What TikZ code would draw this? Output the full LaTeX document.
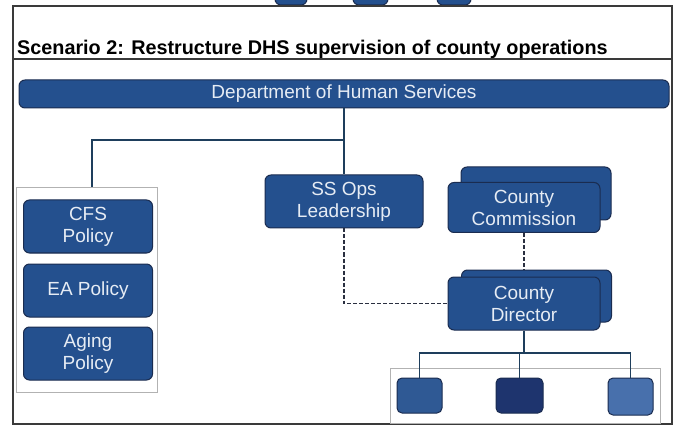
\documentclass[tikz,border=0pt]{standalone}
\usepackage{fontspec}
\setmainfont{Liberation Sans}
\begin{document}
\begin{tikzpicture}[x=1pt,y=-1pt,
  box/.style={draw=boxedge,fill=boxfill,line width=1pt,rounded corners=6pt,
    text=boxtext,font=\fontsize{19}{22}\selectfont,align=center,inner sep=0pt},
  conn/.style={draw=linecol,line width=1.4pt},
  dashline/.style={draw=dashcol,line width=1.3pt,dash pattern=on 4pt off 2pt},
  holder/.style={draw=gray!60,line width=0.6pt,fill=white}]
\definecolor{boxfill}{HTML}{24508E}
\definecolor{boxedge}{HTML}{1A2C50}
\definecolor{boxtext}{HTML}{E6ECF4}
\definecolor{linecol}{HTML}{1E3E5C}
\definecolor{dashcol}{HTML}{2A2F40}
\definecolor{frame}{HTML}{3A3A3A}
\useasboundingbox (0,0) rectangle (682,430);
\fill[white] (0,0) rectangle (682,430);
% cut-off boxes of the previous row
\begin{scope}
\clip (0,0) rectangle (682,8);
\node[box,minimum width=32pt,minimum height=30pt] (top1) at (291,-10) {};
\node[box,minimum width=35pt,minimum height=30pt] (top2) at (370.5,-10) {};
\node[box,minimum width=34pt,minimum height=30pt] (top3) at (454,-10) {};
\end{scope}
% frame and title
\draw[frame,line width=1.3pt] (13,6) rectangle (672,424);
\node[anchor=base west,font=\fontsize{19.8}{22}\selectfont\bfseries,text=black,inner sep=0pt] (title) at (17,55) {Scenario 2: Restructure DHS supervision of county operations};
\draw[frame,line width=1.5pt] (13,59) -- (671,59);
% department bar
\node[box,minimum width=650pt,minimum height=28pt] (dhs) at (344,94) {Department of Human Services};
% left holder
\node[holder,minimum width=141pt,minimum height=205pt] (lc) at (86.5,290) {};
\node[box,minimum width=129pt,minimum height=53pt] (cfs) at (88,226.5) {CFS\\Policy};
\node[box,minimum width=129pt,minimum height=53pt] (ea) at (88,290.5) {EA Policy};
\node[box,minimum width=129pt,minimum height=53pt] (aging) at (88,353.5) {Aging\\Policy};
% SS Ops
\node[box,minimum width=158pt,minimum height=53pt] (ss) at (344,201.5) {SS Ops\\Leadership};
% County Commission (stacked)
\node[box,minimum width=150pt,minimum height=53pt] (ccback) at (536,193.5) {};
\node[box,minimum width=152pt,minimum height=50pt] (cc) at (524,207.5) {County\\Commission};
% County Director (stacked)
\node[box,minimum width=150pt,minimum height=52pt] (cdback) at (536.5,296) {};
\node[box,minimum width=152pt,minimum height=53pt] (cd) at (524,303.5) {County\\Director};
% bottom holder
\node[holder,minimum width=270pt,minimum height=55pt] (bc) at (525,396) {};
\node[box,fill=boxfill!95!white,minimum width=45pt,minimum height=35pt,rounded corners=5pt] (b1) at (419.5,395.5) {};
\node[box,fill={rgb,255:red,30;green,52;blue,110},minimum width=47pt,minimum height=35pt,rounded corners=5pt] (b2) at (519.5,395.5) {};
\node[box,fill={rgb,255:red,72;green,112;blue,172},minimum width=45pt,minimum height=37pt,rounded corners=5pt] (b3) at (630.5,396.5) {};
% connectors
\coordinate (j1) at (344,140);
\coordinate (lj) at (92,187.5);
\coordinate (bus) at (524,353);
\draw[conn] (dhs.south) -- (ss.north);
\draw[conn] (j1) -| (lj);
\draw[dashline] (ss.south) |- (cd.west);
\draw[dashline] (cc.south) -- (cc.south |- cdback.north);
\draw[conn] (cd.south) -- (bus);
\draw[conn] (b1.north) |- (bus) -| (b3.north);
\draw[conn] (b2.north) -- (b2.north |- bus);
\end{tikzpicture}
\end{document}
